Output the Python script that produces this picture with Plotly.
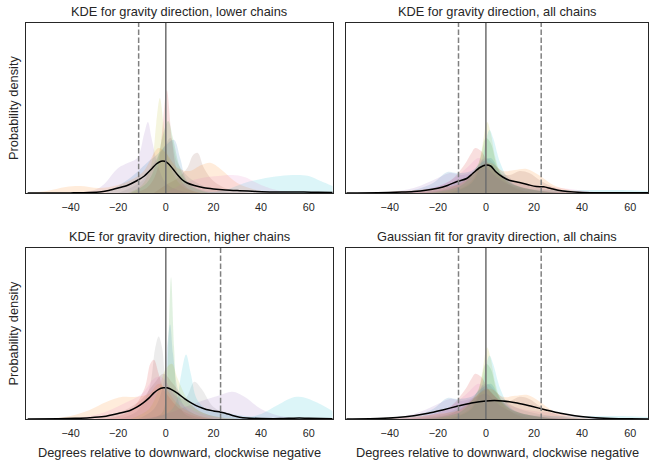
import plotly.graph_objects as go

# ---------------- data ----------------
palette = ["#1f77b4", "#ff7f0e", "#2ca02c", "#d62728", "#9467bd",
           "#8c564b", "#e377c2", "#7f7f7f", "#bcbd22", "#17becf"]

titles = ["KDE for gravity direction, lower chains",
          "KDE for gravity direction, all chains",
          "KDE for gravity direction, higher chains",
          "Gaussian fit for gravity direction, all chains"]
x_label = "Degrees relative to downward, clockwise negative"
y_label = "Probability density"
tick_vals = [-40, -20, 0, 20, 40, 60]

lower_mean = -11.4
higher_mean = 23.0

# per-chain KDEs, lower chains (density x1000)
lower_chain = [3, 8, 4, 0, 5, 1, 9, 6, 2, 7]
lower_x = [
    [-15, -8, -4, -2, 0.4, 2.5, 5, 9, 15],
    [-16, -10, -6, -4, -2.5, -1, 1, 4, 8, 14],
    [-40, -28, -20, -16, -12, -9, -7.5, -6, -3, 0, 5, 12],
    [-25, -15, -8, -3, 1, 3.5, 6, 9, 15, 25],
    [-5, 0, 5, 9, 11.5, 13.4, 16, 20, 26, 35],
    [-58, -50, -42, -36, -28, -20, -10, -3, 0, 5, 10, 15, 19, 24, 30, 38, 48],
    [15, 25, 33, 40, 48, 55, 60, 65, 70],
    [0, 8, 15, 22, 28, 33, 40, 48, 55],
    [-15, -8, -4, -1, 1, 3, 6, 10, 18],
    [-20, -10, -5, -1, 2, 5, 10, 18, 28],
]
lower_y = [
    [0, 5, 20, 50, 103, 55, 20, 5, 0],
    [0, 8, 30, 70, 95, 70, 35, 15, 5, 0],
    [0, 5, 25, 30, 35, 60, 71, 55, 25, 10, 3, 0],
    [0, 15, 30, 40, 50, 53, 35, 12, 3, 0],
    [0, 8, 15, 25, 38, 40, 25, 12, 4, 0],
    [0, 2, 6, 7, 5, 8, 20, 45, 40, 25, 22, 28, 30, 22, 10, 3, 0],
    [0, 3, 10, 14, 17, 18, 17, 12, 7],
    [0, 10, 15, 17, 18, 16, 8, 2, 0],
    [0, 10, 30, 60, 72, 55, 25, 8, 0],
    [0, 12, 30, 45, 55, 30, 15, 5, 0],
]
lower_total_x = [-58, -40, -32, -27, -24, -20, -16, -12, -9, -6, -4, -2, -0.5, 1, 3, 5, 7, 9,
                 12, 16, 20, 25, 31, 38, 45, 52, 58, 64, 70]
lower_total_y = [0, 0.1, 0.4, 1.2, 2.5, 5, 7.8, 12.5, 17, 24, 29, 31.8, 31.8, 29.5, 24, 18, 13,
                 10, 7.5, 5.2, 4, 3, 2.3, 1.6, 1.1, 1, 1, 0.7, 0.4]

# per-chain KDEs, all chains
all_chain = [8, 9, 3, 6, 0, 4, 1, 5, 2, 7]
all_x = [
    [-20, -10, -5, -2, 0.5, 2, 4, 7, 12, 20],
    [-15, -6, -2, 1.5, 3, 6, 10, 16, 30, 45, 55, 62, 68],
    [-35, -25, -15, -9, -6, -4.5, -2, 1, 5, 10, 18, 28, 40],
    [-40, -25, -15, -8, -3, 0, 5, 12, 20, 28, 35, 45, 55],
    [-40, -30, -22, -16, -12, -6, -2, 2, 6, 12, 20, 30],
    [-45, -30, -20, -15, -10, -4, 0, 5, 12, 22, 35],
    [-50, -35, -20, -10, -3, 2, 7, 12, 17, 22, 28, 35, 45],
    [-30, -15, -5, 0, 5, 10, 14, 18, 23, 30, 40],
    [-25, -10, -3, 0, 2, 5, 10, 20, 30],
    [-30, -15, -6, 0, 5, 12, 20, 30, 40],
]
all_y = [
    [0, 5, 15, 40, 71, 60, 35, 15, 5, 0],
    [0, 10, 30, 63, 55, 30, 12, 5, 3, 3, 3, 2.5, 2],
    [0, 3, 12, 28, 40, 45, 42, 30, 20, 10, 4, 1, 0],
    [0, 4, 12, 25, 35, 30, 20, 12, 8, 6, 4, 1, 0],
    [0, 3, 10, 21, 20, 22, 30, 35, 20, 8, 3, 0],
    [0, 5, 15, 20, 18, 22, 25, 15, 6, 2, 0],
    [0, 2, 5, 10, 25, 30, 22, 23, 24, 18, 8, 3, 0],
    [0, 5, 20, 30, 20, 18, 22, 20, 12, 4, 0],
    [0, 8, 30, 55, 50, 25, 10, 3, 0],
    [0, 7, 20, 35, 25, 12, 6, 2, 0],
]
all_total_x = [-58, -45, -35, -30, -25, -20, -16, -12, -8, -5.5, -2.5, 0, 2, 4, 7, 10, 14,
               18, 21, 24, 27, 30, 34, 40, 50, 68]
all_total_y = [0.1, 0.3, 0.9, 1.5, 2.7, 4.8, 7.5, 11.5, 14.5, 19.5, 25.5, 28, 27, 21.5, 16,
               12.5, 10.5, 8, 6.5, 6.2, 4.5, 2.8, 1.4, 0.6, 0.3, 0.2]

# per-chain KDEs, higher chains
higher_chain = [2, 0, 7, 3, 9, 9, 4, 1, 8, 5, 6]
higher_x = [
    [-8, -2, 0, 1, 2.2, 3.5, 5, 8, 14],
    [-12, -5, -1, 0.5, 1.8, 3, 5, 8, 14, 22],
    [-20, -12, -7, -4.5, -3, -1.5, 0, 3, 8, 12, 15, 20, 28, 38],
    [-25, -15, -9, -6.5, -5, -3, -1, 2, 6, 12, 20],
    [-10, 0, 4, 6.5, 8.5, 10.5, 13, 17, 22, 30, 38],
    [32, 40, 47, 55, 62, 70],
    [-10, 0, 8, 15, 22, 28, 33, 40, 48, 58],
    [-50, -40, -32, -25, -18, -12, -7, -3, 0, 5, 12, 20],
    [-15, -7, -3, 0, 2.5, 5, 9, 14, 22, 30],
    [-30, -18, -10, -5, -1, 3, 8, 14, 22, 32],
    [-40, -28, -18, -10, -5, -2, 2, 7, 15, 25],
]
higher_y = [
    [0, 5, 20, 70, 141, 70, 20, 5, 0],
    [0, 10, 35, 70, 94, 65, 30, 12, 3, 0],
    [0, 8, 30, 70, 82, 70, 40, 25, 20, 37, 30, 12, 3, 0],
    [0, 8, 30, 55, 59, 45, 30, 20, 10, 3, 0],
    [0, 5, 15, 45, 64, 45, 20, 10, 8, 4, 2],
    [0, 5, 14, 22, 18, 8],
    [0, 5, 12, 18, 23, 27, 22, 10, 3, 0],
    [0, 3, 9, 17, 22, 22, 25, 35, 30, 15, 5, 0],
    [0, 10, 30, 50, 55, 40, 20, 8, 2, 0],
    [0, 8, 20, 35, 45, 35, 20, 8, 2, 0],
    [0, 5, 15, 25, 40, 42, 30, 15, 5, 0],
]
higher_total_x = [-58, -45, -38, -32, -26, -20, -15, -12, -9.5, -7, -5, -3, -1, 0.5, 3, 5, 8,
                  11, 14, 17, 20, 23, 25, 28, 31, 34, 40, 48, 53, 56, 60, 70]
higher_total_y = [0, 0.3, 0.7, 1.3, 2.5, 5.5, 8.5, 12, 16, 21, 26, 29.5, 31, 31, 28.5, 25.5,
                  20, 15.5, 12, 9.5, 8, 6.8, 5.8, 3.5, 1.8, 1, 0.5, 0.4, 0.8, 1, 0.7, 0.3]

# Gaussian fit to all chains
gauss_x = [-58, -45, -37, -30, -24, -18, -12, -6, 0, 3.5, 7, 13, 19, 25, 31, 37, 44, 52, 60, 69]
gauss_y = [0.05, 0.49, 1.46, 3.24, 5.67, 9.0, 12.6, 15.9, 18.0, 18.3, 18.0, 15.9, 12.6, 9.0,
           5.67, 3.24, 1.46, 0.49, 0.13, 0.02]

# ---------------- figure ----------------
W, H = 649, 461
TXT = "#262626"
FONT = "Liberation Sans"


def px_x(p):
    return p / W


def px_y(p):
    return 1 - p / H


x_dom = [[px_x(26), px_x(333)], [px_x(346), px_x(648.4)]]
y_dom = [[px_y(193), px_y(23)], [px_y(419), px_y(248)]]
x_ranges = [[-58.7, 70.2], [-58.2, 67.6], [-58.7, 70.2], [-58.2, 67.6]]

fig = go.Figure()

panels = [
    (lower_chain, lower_x, lower_y, lower_total_x, lower_total_y, [lower_mean]),
    (all_chain, all_x, all_y, all_total_x, all_total_y, [lower_mean, higher_mean]),
    (higher_chain, higher_x, higher_y, higher_total_x, higher_total_y, [higher_mean]),
    (all_chain, all_x, all_y, gauss_x, gauss_y, [lower_mean, higher_mean]),
]


def rgba(hexc, a):
    h = hexc.lstrip("#")
    r, g, b = int(h[0:2], 16), int(h[2:4], 16), int(h[4:6], 16)
    return f"rgba({r},{g},{b},{a})"


for i, (chains, xs, ys, tx, ty, dashes) in enumerate(panels):
    suf = "" if i == 0 else str(i + 1)
    xa, ya = "x" + suf, "y" + suf
    for c, xx, yy in zip(chains, xs, ys):
        fig.add_trace(go.Scatter(
            x=xx, y=yy, mode="lines", line=dict(width=0, shape="spline", smoothing=1.0),
            fill="tozeroy", fillcolor=rgba(palette[c], 0.15),
            xaxis=xa, yaxis=ya, showlegend=False, hoverinfo="skip"))
    fig.add_trace(go.Scatter(
        x=tx, y=ty, mode="lines", line=dict(color="black", width=1.5, shape="spline", smoothing=0.8),
        xaxis=xa, yaxis=ya, showlegend=False))
    # reference lines
    fig.add_shape(type="line", xref=xa, yref=ya + " domain", x0=0, x1=0, y0=0, y1=1,
                  line=dict(color="#6e6e6e", width=1.5), layer="above")
    for d in dashes:
        fig.add_shape(type="line", xref=xa, yref=ya + " domain", x0=d, x1=d, y0=0, y1=1,
                      line=dict(color="#808080", width=1.5, dash="5.5px,2.4px"), layer="above")

    col, row = i % 2, i // 2
    axis_common = dict(showline=True, mirror=True, linecolor=TXT, linewidth=1.25,
                       showgrid=False, zeroline=False)
    fig.layout["xaxis" + suf] = dict(
        domain=x_dom[col], anchor=ya, range=x_ranges[i], tickvals=tick_vals,
        ticks="outside", ticklen=4, tickcolor="rgba(0,0,0,0)",
        tickfont=dict(family=FONT, size=10.8, color=TXT), **axis_common)
    fig.layout["yaxis" + suf] = dict(
        domain=y_dom[row], anchor=xa, range=[0, 170], showticklabels=False, ticks="",
        **axis_common)

    cx = (x_dom[col][0] + x_dom[col][1]) / 2
    fig.add_annotation(text=titles[i], xref="paper", yref="paper", x=cx,
                       y=px_y(11 if row == 0 else 236), xanchor="center", yanchor="middle",
                       showarrow=False, font=dict(family=FONT, size=12.8, color=TXT))
    if row == 1:
        fig.add_annotation(text=x_label, xref="paper", yref="paper", x=cx, y=px_y(452),
                           xanchor="center", yanchor="middle", showarrow=False,
                           font=dict(family=FONT, size=12.8, color=TXT))
    if col == 0:
        cy = (y_dom[row][0] + y_dom[row][1]) / 2
        fig.add_annotation(text=y_label, xref="paper", yref="paper", x=px_x(13), y=cy,
                           xanchor="center", yanchor="middle", textangle=-90, showarrow=False,
                           font=dict(family=FONT, size=12.8, color=TXT))

fig.update_layout(width=W, height=H, margin=dict(l=0, r=0, t=0, b=0),
                  paper_bgcolor="white", plot_bgcolor="white",
                  font=dict(family=FONT, color=TXT))

fig.write_html("out.html", config={"displayModeBar": False},
               post_script="document.body.style.margin='0px';"
                           "document.body.style.overflow='hidden';")
